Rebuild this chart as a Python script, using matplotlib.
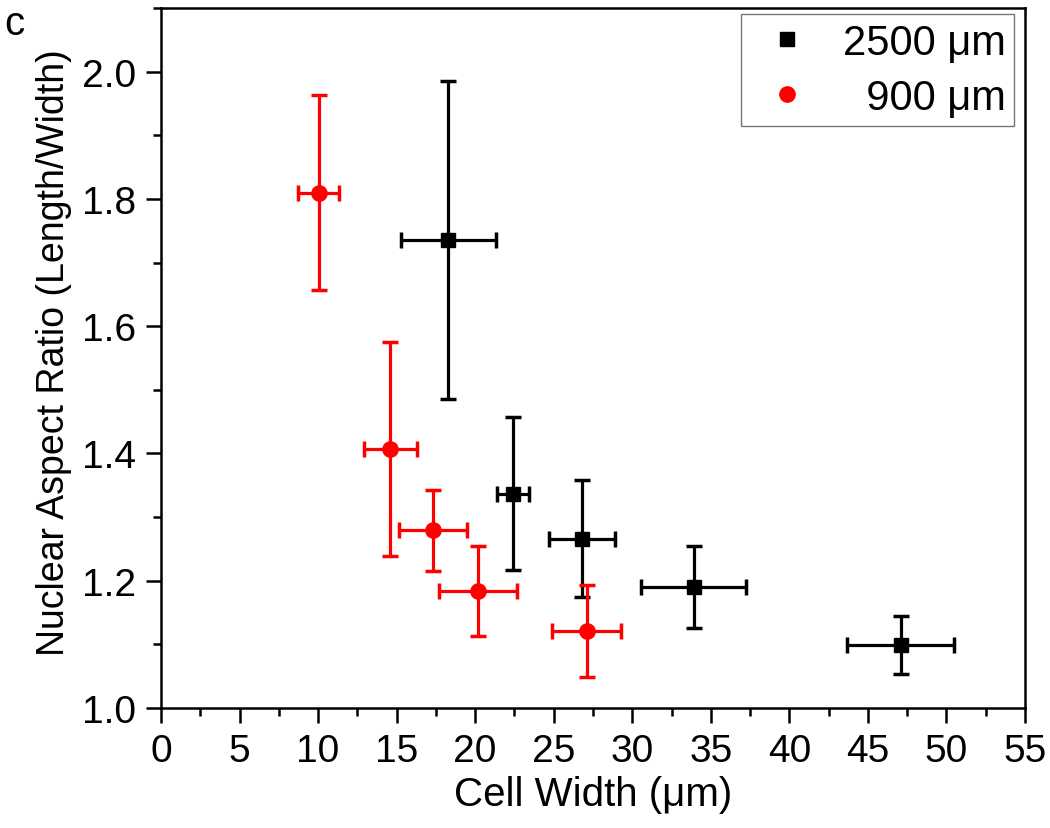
import matplotlib
matplotlib.use("Agg")
from matplotlib import pyplot as plt
from matplotlib.ticker import MultipleLocator, FormatStrFormatter

plt.rcParams['font.family'] = ['Liberation Sans', 'DejaVu Sans']

# 2500 um channels (black squares)
w2500 = [18.3, 22.4, 26.8, 33.9, 47.1]
w2500_err = [3.0, 1.0, 2.1, 3.35, 3.4]
ar2500 = [1.736, 1.337, 1.266, 1.190, 1.099]
ar2500_err = [0.250, 0.120, 0.092, 0.065, 0.045]

# 900 um channels (red circles)
w900 = [10.05, 14.6, 17.3, 20.2, 27.1]
w900_err = [1.3, 1.67, 2.16, 2.48, 2.2]
ar900 = [1.810, 1.407, 1.279, 1.184, 1.121]
ar900_err = [0.153, 0.168, 0.064, 0.071, 0.072]

labels = ['2500 \u03bcm', '  900 \u03bcm']

fig = plt.figure(figsize=(10.5, 8.29), dpi=100)
ax = fig.add_axes([0.1533, 0.1448, 0.8229, 0.8442])

eb_kw = dict(linestyle='none', elinewidth=2.3, capsize=5.8, capthick=2.5)
ax.errorbar(w2500, ar2500, xerr=w2500_err, yerr=ar2500_err, fmt='s',
            color='black', markersize=9.5, label=labels[0], **eb_kw)
ax.errorbar(w900, ar900, xerr=w900_err, yerr=ar900_err, fmt='o',
            color='#ff0000', markersize=11, label=labels[1], **eb_kw)

ax.set_xlim(0, 55)
ax.set_ylim(1.0, 2.1)
ax.xaxis.set_major_locator(MultipleLocator(5))
ax.xaxis.set_minor_locator(MultipleLocator(2.5))
ax.yaxis.set_major_locator(MultipleLocator(0.2))
ax.yaxis.set_minor_locator(MultipleLocator(0.1))
ax.yaxis.set_major_formatter(FormatStrFormatter('%.1f'))

ax.tick_params(which='both', direction='out', top=False, right=False,
               width=1.8, labelsize=28)
ax.tick_params(which='major', length=11, pad=7)
ax.tick_params(which='minor', length=6)
for s in ax.spines.values():
    s.set_linewidth(1.8)

ax.set_xlabel('Cell Width (\u03bcm)', fontsize=29, labelpad=4)
ax.set_ylabel('Nuclear Aspect Ratio (Length/Width)', fontsize=27)
ax.yaxis.set_label_coords(-0.103, 0.509)

# only markers in the legend, no error bars
handles, labs = ax.get_legend_handles_labels()
handles = [h[0] for h in handles]
leg = ax.legend(handles, labs, loc='upper right', fontsize=30, frameon=True,
                fancybox=False, edgecolor='#555555', handletextpad=0.43,
                borderpad=0.2, labelspacing=0.36, handlelength=1.8,
                borderaxespad=0, bbox_to_anchor=(0.987, 0.991))
leg.get_frame().set_linewidth(1.0)

fig.text(0.004, 0.994, 'c', fontsize=29, va='top', ha='left')

fig.savefig('out.png', dpi=100)
